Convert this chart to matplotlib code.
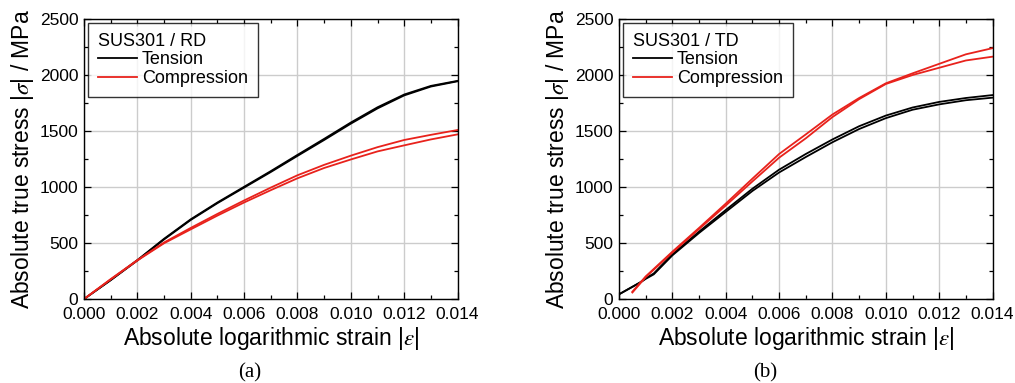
import matplotlib
matplotlib.use("Agg")
import matplotlib.pyplot as plt
from matplotlib.ticker import MultipleLocator, FormatStrFormatter

plt.rcParams["font.family"] = ["Liberation Sans", "DejaVu Sans"]
plt.rcParams["mathtext.fontset"] = "stix"

# --- RD (a) ---
rd_strain_t = [0.0, 0.001, 0.002, 0.003, 0.004, 0.005, 0.006, 0.007, 0.008,
               0.009, 0.010, 0.011, 0.012, 0.013, 0.014]
rd_tension_1 = [0, 170, 348, 538, 712, 862, 1002, 1142, 1287, 1430, 1576, 1712, 1826, 1903, 1948]
rd_tension_2 = [0, 168, 344, 532, 706, 856, 995, 1134, 1278, 1420, 1566, 1702, 1818, 1897, 1944]

rd_strain_c = [0.0, 0.001, 0.002, 0.003, 0.004, 0.005, 0.006, 0.007, 0.008,
               0.009, 0.010, 0.011, 0.012, 0.013, 0.014]
rd_comp_1 = [0, 178, 348, 505, 635, 760, 880, 995, 1105, 1198, 1280, 1356, 1420, 1466, 1509]
rd_comp_2 = [0, 175, 344, 498, 622, 745, 862, 972, 1078, 1170, 1246, 1318, 1372, 1425, 1470]

# --- TD (b) ---
td_strain_t = [0.0, 0.0008, 0.001, 0.0013, 0.002, 0.003, 0.004, 0.005, 0.006,
               0.007, 0.008, 0.009, 0.010, 0.011, 0.012, 0.013, 0.014]
td_tension_1 = [42, 150, 185, 228, 400, 602, 795, 985, 1155, 1295, 1425, 1543, 1638, 1710, 1760, 1795, 1821]
td_tension_2 = [42, 148, 180, 220, 390, 590, 778, 965, 1130, 1268, 1400, 1518, 1615, 1690, 1738, 1775, 1798]

td_strain_c = [0.0005, 0.001, 0.002, 0.003, 0.004, 0.005, 0.006, 0.007, 0.008,
               0.009, 0.010, 0.011, 0.012, 0.013, 0.014]
td_comp_1 = [65, 202, 423, 635, 852, 1075, 1295, 1470, 1648, 1795, 1926, 2015, 2100, 2185, 2240]
td_comp_2 = [58, 196, 415, 625, 835, 1050, 1262, 1435, 1625, 1785, 1920, 2000, 2065, 2130, 2164]

panels = [
    ("SUS301 / RD", "(a)", rd_strain_t, rd_tension_1, rd_tension_2,
     rd_strain_c, rd_comp_1, rd_comp_2),
    ("SUS301 / TD", "(b)", td_strain_t, td_tension_1, td_tension_2,
     td_strain_c, td_comp_1, td_comp_2),
]

fig = plt.figure(figsize=(10.15, 3.83), dpi=100)
lefts = [0.0828, 0.6099]
caption_x = [0.246, 0.754]

for i, (title, cap, xs_t, t1, t2, xs_c, c1, c2) in enumerate(panels):
    ax = fig.add_axes([lefts[i], 0.2193, 0.3680, 0.731])
    ax.plot(xs_t, t1, color="black", lw=1.3, label="Tension")
    ax.plot(xs_t, t2, color="black", lw=1.3)
    ax.plot(xs_c, c1, color="#e8221c", lw=1.3, label="Compression")
    ax.plot(xs_c, c2, color="#e8221c", lw=1.3)

    ax.set_xlim(0, 0.014)
    ax.set_ylim(0, 2500)
    ax.xaxis.set_major_locator(MultipleLocator(0.002))
    ax.xaxis.set_minor_locator(MultipleLocator(0.001))
    ax.xaxis.set_major_formatter(FormatStrFormatter("%.3f"))
    ax.yaxis.set_major_locator(MultipleLocator(500))
    ax.yaxis.set_minor_locator(MultipleLocator(250))
    ax.tick_params(which="both", direction="in", top=True, right=True,
                   labelsize=12.5, width=0.9)
    ax.tick_params(axis="x", pad=6)
    ax.tick_params(axis="y", pad=4)
    ax.tick_params(which="major", length=5)
    ax.tick_params(which="minor", length=3)
    ax.grid(True, which="major", color="#cccccc", lw=1.0)
    ax.set_axisbelow(True)
    for spine in ax.spines.values():
        spine.set_linewidth(1.0)

    ax.set_xlabel(r"Absolute logarithmic strain |$\varepsilon$|", fontsize=16.5, labelpad=2)
    ax.set_ylabel(r"Absolute true stress |$\sigma$| / MPa", fontsize=16.5, labelpad=3)

    leg = ax.legend(title=title, loc="upper left", fontsize=13, title_fontsize=13,
                    frameon=True, fancybox=False, edgecolor="black",
                    handlelength=2.2, handletextpad=0.25, borderpad=0.55,
                    labelspacing=0.1, borderaxespad=0.2)
    leg._legend_box.align = "left"
    leg.get_frame().set_linewidth(1.0)

    fig.text(caption_x[i], 0.026, cap, ha="center", va="center",
             fontsize=15, family="Liberation Serif")

fig.savefig("out.png", dpi=100)
